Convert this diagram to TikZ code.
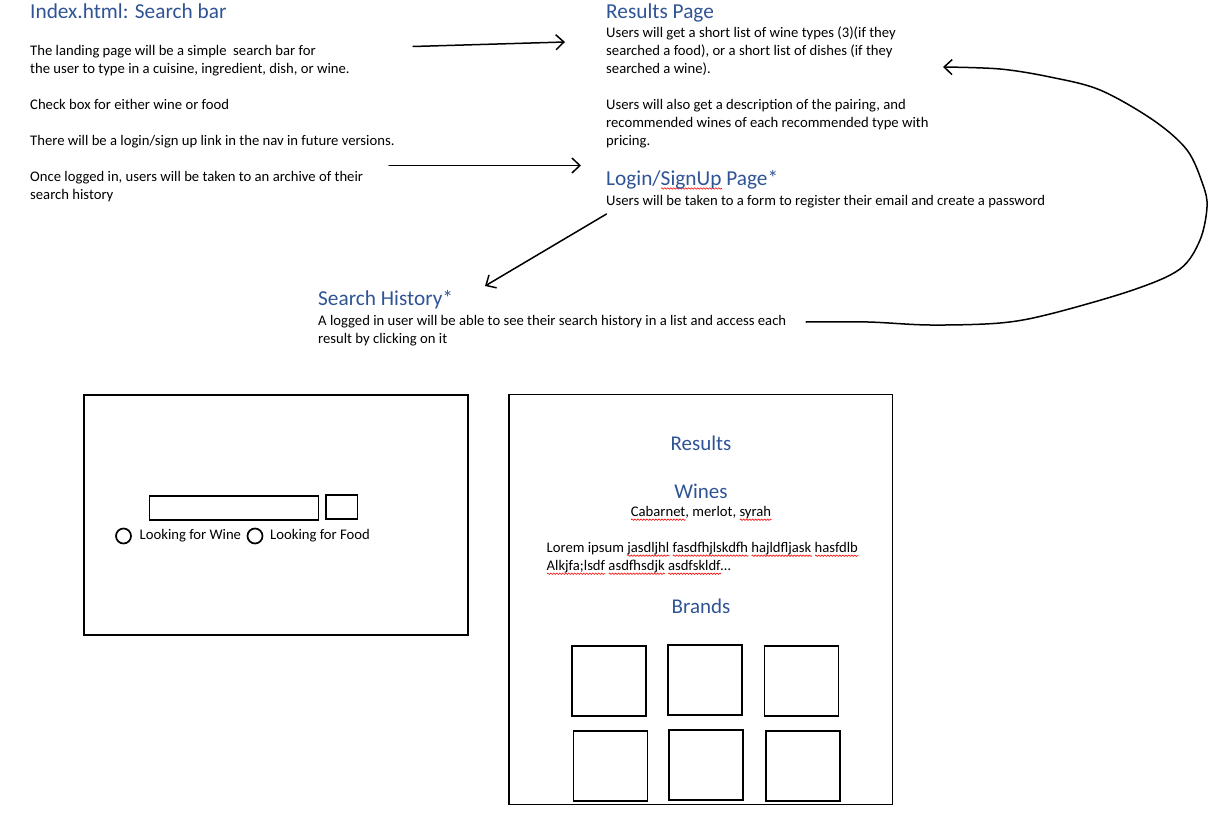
\documentclass[tikz,border=0pt]{standalone}
\usepackage{fontspec}
\setmainfont{Carlito}
\usetikzlibrary{arrows.meta,decorations.pathmorphing}
\definecolor{hblue}{RGB}{47,84,150}
\newcommand\sq[1]{\setbox0\hbox{#1}\rlap{\tikz[x=1pt,y=1pt,baseline=0pt]\draw[red,line width=0.6pt,decorate,decoration={zigzag,segment length=3pt,amplitude=0.7pt}] (0,-3) -- (\the\wd0,-3);}\box0\relax}
\begin{document}
\begin{tikzpicture}[x=1pt,y=-1pt,
  body/.style={font=\fontsize{14.67}{18}\selectfont, inner sep=0pt, anchor=base west, align=left},
  head/.style={font=\fontsize{21.3}{26}\selectfont, text=hblue, inner sep=0pt, anchor=base west},
  chead/.style={font=\fontsize{21}{26}\selectfont, text=hblue, inner sep=0pt, anchor=base},
  conn/.style={line width=1.5pt, line cap=round, -{Straight Barb[length=8pt,width=15pt,line width=1.5pt]}},
  frame/.style={draw, line width=1.6pt},
  tile/.style={draw, line width=1.6pt},
  radio/.style={draw, circle, line width=1.7pt, minimum size=15pt, inner sep=0pt},
  ]
\useasboundingbox (0,0) rectangle (1214,813);

% ---------- text blocks (multi-line nodes are anchored at their last baseline) ----------
\node[head] (idxh) at (30,18.5) {Index.html: Search bar};
\node[body] (idxb) at (30,200) {The landing page will be a simple\ \ search bar for\\
the user to type in a cuisine, ingredient, dish, or wine.\\[18pt]
Check box for either wine or food\\[18pt]
There will be a login/sign up link in the nav in future versions.\\[18pt]
Once logged in, users will be taken to an archive of their\\
search history};

\node[head] (resh) at (606,18.5) {Results Page};
\node[body] (resb) at (606,146) {Users will get a short list of wine types (3)(if they\\
searched a food), or a short list of dishes (if they\\
searched a wine).\\[18pt]
Users will also get a description of the pairing, and\\
recommended wines of each recommended type with\\
pricing.};

\node[head] (logh) at (606,185.5) {Login/\sq{SignUp} Page*};
\node[body] (logb) at (606,205) {Users will be taken to a form to register their email and create a password};

\node[head] (hish) at (318,305.5) {Search History*};
\node[body] (hisb) at (318,343) {A logged in user will be able to see their search history in a list and access each\\
result by clicking on it};

% ---------- connectors ----------
\coordinate (a1s) at (413,46.5);
\coordinate (a1e) at (565,42);
\coordinate (a2s) at (389,165.5);
\coordinate (a2e) at (581,165.5);
\coordinate (a3s) at (606.5,214);
\coordinate (a3e) at (485,286);
\coordinate (a4s) at (806,322);
\coordinate (a4e) at (943,67);
\draw[conn] (a1s) -- (a1e);
\draw[conn] (a2s) -- (a2e);
\draw[conn] (a3s) -- (a3e);
\draw[conn] plot[smooth, tension=0.55] coordinates {(a4s) (868,322) (930,325) (1000,323) (1050,314) (1133,290) (1180,269) (1200,240) (1207,207) (1203,185) (1187,150) (1153,120) (1100,90) (1050,77) (1000,69) (a4e)};

% ---------- landing page mock-up ----------
\draw[frame] (84,395) rectangle (468,635);
\draw[tile] (149.5,496) rectangle (318.5,520);
\draw[tile] (326,495) rectangle (357.5,519);
\node[radio] (r1) at (123.5,536) {};
\node[body] (r1t) at (139.5,539.5) {Looking for Wine};
\node[radio] (r2) at (255,536) {};
\node[body] (r2t) at (270,539) {Looking for Food};

% ---------- results page mock-up ----------
\draw[frame] (509,394.5) rectangle (892.5,804.5);
\node[chead] (rt) at (701,450) {Results};
\node[chead] (wt) at (701,498.3) {Wines};
\node[body, anchor=base] (wl) at (701,516.7) {\sq{Cabarnet}, merlot, \sq{syrah}};
\node[body] (lor) at (546.5,570.7) {Lorem ipsum \sq{jasdljhl} \sq{fasdfhjlskdfh} \sq{hajldfljask} \sq{hasfdlb}\\
\sq{Alkjfa;lsdf} \sq{asdfhsdjk} \sq{asdfskldf}…};
\node[chead] (bt) at (701,613.5) {Brands};

\draw[tile] (572,646) rectangle (646,716);
\draw[tile] (668,645) rectangle (742,715);
\draw[tile] (764.5,646) rectangle (838.5,716);
\draw[tile] (573.5,731) rectangle (647.5,801);
\draw[tile] (669,730) rectangle (743,800);
\draw[tile] (766,731) rectangle (840,801);
\end{tikzpicture}
\end{document}
